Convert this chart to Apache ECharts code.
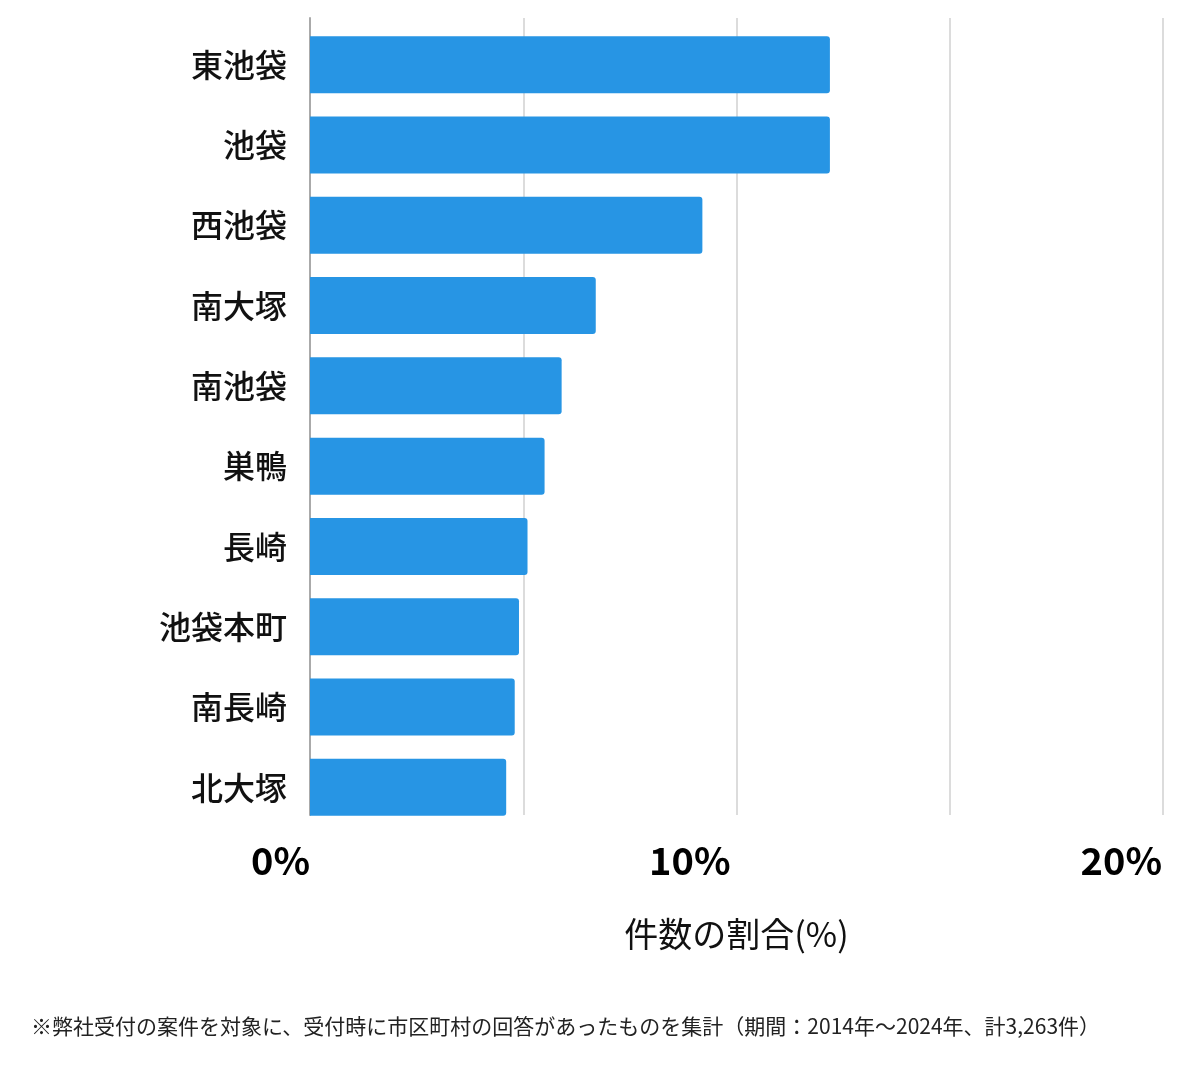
<!DOCTYPE html>
<html>
<head>
<meta charset="utf-8">
<script src="https://cdn.jsdelivr.net/npm/echarts@6/dist/echarts.min.js"></script>
<style>
html,body{margin:0;padding:0;background:#fff;}
#chart{width:1200px;height:1069px;}
</style>
</head>
<body>
<div id="chart"></div>
<script>
const categories = ['東池袋','池袋','西池袋','南大塚','南池袋','巣鴨','長崎','池袋本町','南長崎','北大塚'];
const shares = [12.19, 12.19, 9.2, 6.7, 5.9, 5.5, 5.1, 4.9, 4.8, 4.6];
const tickLabels = {0: '0%', 10: '10%', 20: '20%'};
const axisTitle = '件数の割合(%)';
const footnote = '※弊社受付の案件を対象に、受付時に市区町村の回答があったものを集計（期間：2014年〜2024年、計3,263件）';

const FONT = '"Noto Sans CJK JP", "Noto Sans", sans-serif';
const chart = echarts.init(document.getElementById('chart'), null, {renderer: 'canvas'});
const richKey = {0: 'a', 10: 'b', 20: 'c'};
const baseRich = {fontSize: 38, fontWeight: 'bold', color: '#000', fontFamily: FONT, lineHeight: 38};

chart.setOption({
  animation: false,
  backgroundColor: '#fff',
  grid: [
    {left: 310, right: 37, top: 18, height: 797, containLabel: false},
    {left: 310, right: 37, top: 24.5, height: 803, containLabel: false}
  ],
  xAxis: [
    {
      gridIndex: 0, type: 'value', min: 0, max: 20, interval: 5,
      axisLine: {show: false}, axisTick: {show: false}, axisLabel: {show: false},
      splitLine: {show: true, lineStyle: {color: '#dcdcdc', width: 2}}
    },
    {
      gridIndex: 1, type: 'value', min: 0, max: 20, interval: 5,
      axisLine: {show: false}, axisTick: {show: false}, splitLine: {show: false},
      axisLabel: {
        show: true, margin: 14, align: 'right',
        formatter: v => tickLabels[v] !== undefined ? '{' + richKey[v] + '|' + tickLabels[v] + '}' : '',
        rich: {
          a: Object.assign({}, baseRich, {padding: [0, 0, 0, 0]}),
          b: Object.assign({}, baseRich, {padding: [0, 6, 0, 0]}),
          c: Object.assign({}, baseRich, {padding: [0, 1, 0, 0]})
        }
      },
      name: axisTitle, nameLocation: 'middle', nameGap: 90,
      nameTextStyle: {fontSize: 34, color: '#111', fontFamily: FONT, fontWeight: 'normal'}
    }
  ],
  yAxis: [
    {
      gridIndex: 0, type: 'category', data: categories, inverse: true,
      axisLine: {show: true, lineStyle: {color: '#aaaaaa', width: 2}},
      axisTick: {show: false}, axisLabel: {show: false}, splitLine: {show: false}
    },
    {
      gridIndex: 1, type: 'category', data: categories, inverse: true,
      axisLine: {show: false}, axisTick: {show: false}, splitLine: {show: false},
      axisLabel: {margin: 23, fontSize: 32, fontWeight: 500, color: '#111', fontFamily: FONT}
    }
  ],
  series: [{
    type: 'bar', xAxisIndex: 1, yAxisIndex: 1,
    data: shares, barWidth: 57,
    itemStyle: {color: '#2795e4', borderRadius: [0, 3, 3, 0]}
  }],
  graphic: [{
    type: 'text', left: 31, top: 1016,
    style: {text: footnote, fontSize: 21, fill: '#222', fontFamily: FONT}
  }]
});
</script>
</body>
</html>
